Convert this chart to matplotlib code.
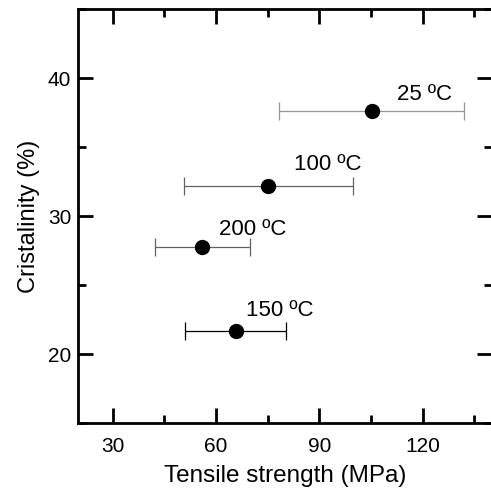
import matplotlib
matplotlib.use("Agg")
import matplotlib.pyplot as plt
from matplotlib.ticker import MultipleLocator

plt.rcParams["font.family"] = ["Liberation Sans", "DejaVu Sans"]

# annealing temperature labels, tensile strength (MPa) with spread, crystallinity (%)
labels = ["25 ºC", "100 ºC", "200 ºC", "150 ºC"]
strength = [105.2, 75.2, 56.0, 65.7]
strength_err = [26.8, 24.5, 13.8, 14.6]
crystallinity = [37.6, 32.2, 27.8, 21.7]

bar_colors = ["#959595", "#606060", "#606060", "#000000"]
label_offsets = [(38, 12.5), (43, 15.5), (36, 12), (32, 15)]

fig = plt.figure(figsize=(4.91, 4.99), dpi=100)
ax = fig.add_axes([0.1595, 0.1517, 0.8417, 0.8297])

for x, xe, y, c, lab, off in zip(strength, strength_err, crystallinity,
                                 bar_colors, labels, label_offsets):
    ax.errorbar(x, y, xerr=xe, fmt="o", color="black", markersize=10,
                ecolor=c, elinewidth=0.9, capsize=6.5, capthick=0.9)
    ax.annotate(lab, (x, y), xytext=off, textcoords="offset points",
                ha="center", va="center", fontsize=16)

ax.set_xlim(20, 140)
ax.set_ylim(15, 45)
ax.xaxis.set_major_locator(MultipleLocator(30))
ax.xaxis.set_minor_locator(MultipleLocator(15))
ax.yaxis.set_major_locator(MultipleLocator(10))
ax.yaxis.set_minor_locator(MultipleLocator(5))

for side in ax.spines.values():
    side.set_linewidth(2.0)
ax.tick_params(which="both", direction="in", top=True, right=True, width=2.0)
ax.tick_params(which="major", length=10.5, labelsize=15, pad=10)
ax.tick_params(which="minor", length=5.5)
ax.tick_params(axis="y", which="major", pad=5)

ax.set_xlabel("Tensile strength (MPa)", fontsize=17.5, labelpad=6)
ax.set_ylabel("Cristalinity (%)", fontsize=17, labelpad=6)

fig.savefig("out.png", dpi=100)
